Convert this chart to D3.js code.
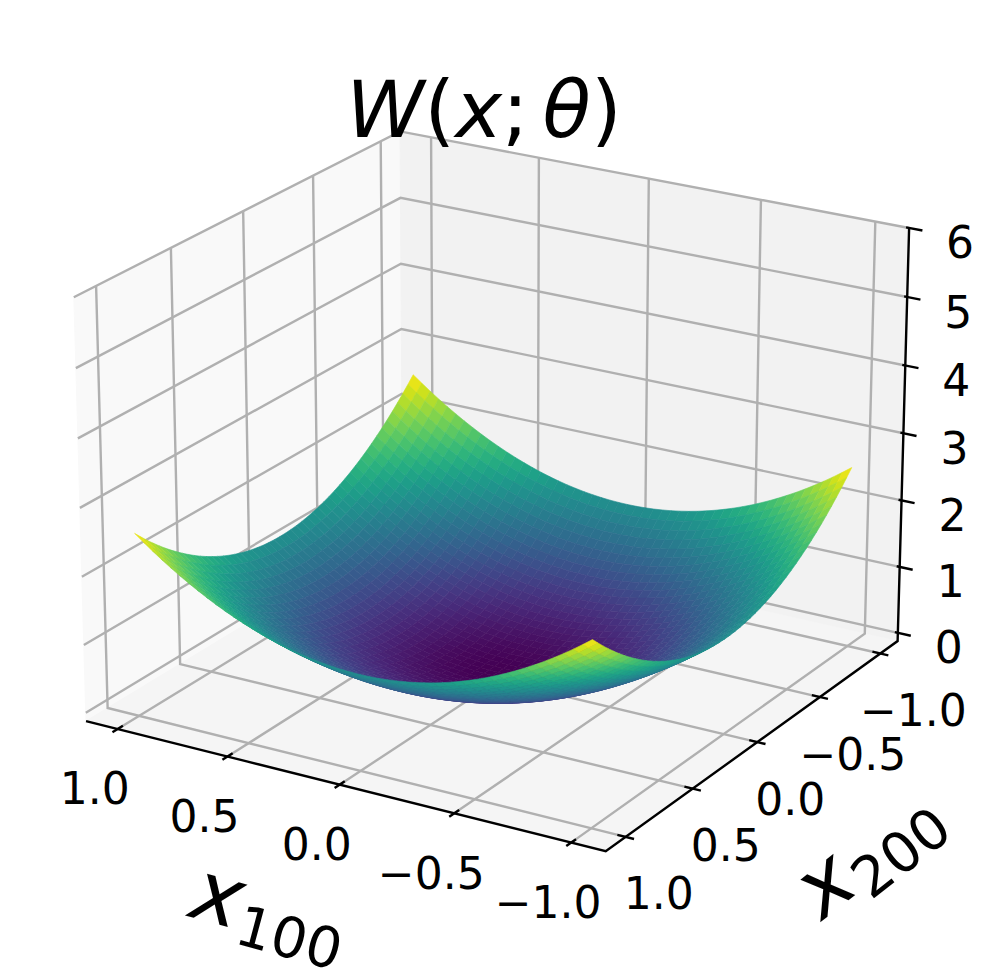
<!DOCTYPE html>
<html><head><meta charset="utf-8">
<style>html,body{margin:0;padding:0;background:#fff}svg{display:block}text{font-family:"DejaVu Sans";fill:#000}</style>
<script src="https://d3js.org/d3.v7.min.js"></script></head>
<body><svg id="c" width="996" height="971"></svg>
<script>
const xTicks=[1,0.5,0,-0.5,-1];
const yTicks=[1,0.5,0,-0.5,-1];
const zTicks=[0,1,2,3,4,5,6];
const fmt=v=>v.toFixed(1).replace("-","\u2212");
const gridX=[-1,-.96,-.92,-.88,-.84,-.8,-.76,-.72,-.68,-.64,-.6,-.56,-.52,-.48,-.44,-.4,-.36,-.32,-.28,-.24,-.2,-.16,-.12,-.08,-.04,0,.04,.08,.12,.16,.2,.24,.28,.32,.36,.4,.44,.48,.52,.56,.6,.64,.68,.72,.76,.8,.84,.88,.92,.96,1];
const gridY=gridX;
const wBase=0;
const wAlongX=[1.28,1.18,1.083,.991,.903,.819,.739,.664,.592,.524,.461,.401,.346,.295,.248,.205,.166,.131,.1,.074,.051,.033,.018,.008,.002,0,.002,.008,.018,.033,.051,.074,.1,.131,.166,.205,.248,.295,.346,.401,.461,.524,.592,.664,.739,.819,.903,.991,1.083,1.18,1.28];
const wAlongY=wAlongX;

const xS=d3.scaleLinear().domain([1.1,-1.1]).range([0,1]);
const yS=d3.scaleLinear().domain([1.1,-1.1]).range([0,1]);
const zS=d3.scaleLinear().domain([0,6]).range([0,1]);
const pxX=d3.scaleLinear().domain([0,1]).range([498,498+5760]);
const pxY=d3.scaleLinear().domain([0,1]).range([470,470-4190]);
const ZST=1.13, DIST=10, KAPPA=0.25;
const ST=Math.sin(59*Math.PI/180), CT=Math.cos(59*Math.PI/180);
const e=1/48;
function proj(u,v,w){
  const x=u-.5,y=v-.5,z=(w-.5)*ZST;
  const a=ST*x+CT*y, b=-.5*CT*x+.5*ST*y+.8660254*z, c=.8660254*(CT*x-ST*y)+KAPPA*z;
  const d=DIST-c;
  return {x:pxX(a/d),y:pxY(b/d),d};
}
const svg=d3.select("#c");
const line=pts=>"M"+pts.map(p=>p.x.toFixed(2)+","+p.y.toFixed(2)).join("L");
const lo=-e,hi=1+e,zlo=-e,zhi=1;
function pane(cs,col){svg.append("path").attr("d",line(cs.map(c=>proj(...c)))+"Z").attr("fill",col).attr("stroke",col).attr("stroke-width",1);}
pane([[lo,lo,zlo],[lo,hi,zlo],[lo,hi,zhi],[lo,lo,zhi]],"#f9f9f9");
pane([[lo,hi,zlo],[hi,hi,zlo],[hi,hi,zhi],[lo,hi,zhi]],"#f2f2f2");
pane([[lo,lo,zlo],[hi,lo,zlo],[hi,hi,zlo],[lo,hi,zlo]],"#f5f5f5");
const grid=svg.append("g").attr("fill","none").attr("stroke","#b0b0b0").attr("stroke-width",2.4);
xTicks.forEach(t=>{const u=xS(t);grid.append("path").attr("d",line([proj(u,lo,zlo),proj(u,hi,zlo),proj(u,hi,zhi)]));});
yTicks.forEach(t=>{const v=yS(t);grid.append("path").attr("d",line([proj(hi,v,zlo),proj(lo,v,zlo),proj(lo,v,zhi)]));});
zTicks.forEach(t=>{const w=zS(t);grid.append("path").attr("d",line([proj(lo,lo,w),proj(lo,hi,w),proj(hi,hi,w)]));});
const ax=svg.append("g").attr("fill","none").attr("stroke","#000").attr("stroke-width",2.4);
ax.append("path").attr("d",line([proj(lo,lo,zlo),proj(hi,lo,zlo),proj(hi,hi,zlo),proj(hi,hi,zhi)]));
const tk=.016;
xTicks.forEach(t=>{const u=xS(t);ax.append("path").attr("d",line([proj(u,lo-tk,zlo),proj(u,lo+tk,zlo)]));});
yTicks.forEach(t=>{const v=yS(t);ax.append("path").attr("d",line([proj(hi-tk,v,zlo),proj(hi+tk,v,zlo)]));});
zTicks.forEach(t=>{const w=zS(t);ax.append("path").attr("d",line([proj(hi-.006,hi,w),proj(hi+.026,hi,w)]));});
// surface
const Z=gridX.map((_,i)=>gridY.map((_,j)=>wBase+wAlongX[i]+wAlongY[j]));
const all=Z.flat();
const col=d3.scaleSequential(d3.interpolateViridis).domain(d3.extent(all));
const cells=[];
for(let i=0;i<gridX.length-1;i++)for(let j=0;j<gridY.length-1;j++){
  const q=[[i,j],[i+1,j],[i+1,j+1],[i,j+1]];
  const pts=q.map(([a,b])=>proj(xS(gridX[a]),yS(gridY[b]),zS(Z[a][b])));
  cells.push({pts,z:d3.mean(q,([a,b])=>Z[a][b]),d:d3.mean(pts,p=>p.d)});
}
cells.sort((a,b)=>b.d-a.d);
svg.append("g").selectAll("path").data(cells).join("path").attr("d",c=>line(c.pts)+"Z").attr("fill",c=>col(c.z)).attr("stroke",c=>col(c.z)).attr("stroke-width",.6).attr("stroke-linejoin","round");
// labels
function lab(p,dx,dy,s){svg.append("text").attr("x",p.x+dx).attr("y",p.y+dy).attr("text-anchor","middle").attr("dominant-baseline","central").attr("font-size",44).text(s);}
xTicks.forEach(t=>lab(proj(xS(t),lo,zlo),-23,60,fmt(t)));
yTicks.forEach(t=>lab(proj(hi,yS(t),zlo),33,57,fmt(t)));
zTicks.forEach(t=>lab(proj(hi,hi,zS(t)),51,15,String(t)));
const title=svg.append("text").attr("x",484).attr("y",110).attr("text-anchor","middle").attr("dominant-baseline","central").attr("font-size",79);
[{t:"W",i:1},{t:"("},{t:"x",i:1},{t:";"},{t:"θ",i:1,dx:14},{t:")"}].forEach(p=>{const s=title.append("tspan").text(p.t);if(p.i)s.attr("font-style","oblique");if(p.dx)s.attr("dx",p.dx);});
function axisLabel(x,y,rot,sub){
  const g=svg.append("g").attr("transform",`translate(${x},${y}) rotate(${rot})`);
  g.append("text").attr("font-size",84).attr("font-style","oblique").text("x");
  g.append("text").attr("x",51).attr("y",14).attr("font-size",56).text(sub);
}
axisLabel(187,916,15,"100");
axisLabel(822,921,-38,"200");
</script></body></html>
